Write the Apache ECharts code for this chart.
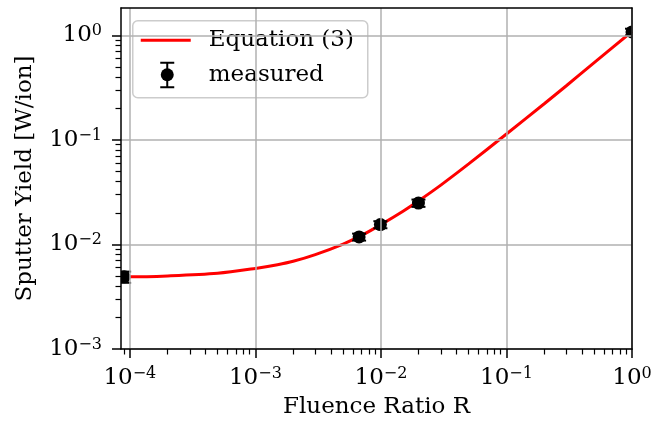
<!DOCTYPE html>
<html>
<head>
<meta charset="utf-8">
<script src="https://cdn.jsdelivr.net/npm/echarts@6/dist/echarts.min.js"></script>
<style>
html, body { margin: 0; padding: 0; background: #fff; }
#chart { width: 668px; height: 424px; }
</style>
</head>
<body>
<div id="chart"></div>
<script>
// fitted curve
var curveR = [8.5e-5, 1e-4, 2e-4, 5e-4, 1e-3, 1.5e-3, 2e-3, 3e-3, 5e-3, 7e-3, 1e-2, 1.5e-2, 2e-2, 3e-2, 5e-2, 1e-1, 2e-1, 3e-1, 5e-1, 1];
var curveY = [0.0049, 0.0049, 0.0050, 0.0053, 0.0059, 0.0064, 0.0069, 0.0080, 0.0101, 0.0122, 0.0155, 0.0208, 0.0262, 0.037, 0.059, 0.114, 0.222, 0.33, 0.55, 1.09];

// measured points with error bars
var measR = [9e-5, 0.0067, 0.0099, 0.0199, 1.0];
var measY = [0.0049, 0.0118, 0.0155, 0.0249, 1.08];
var measErr = [0.0006, 0.0009, 0.0012, 0.002, 0.08];

var xMajor = [-4, -3, -2, -1, 0];
var yMajor = [-3, -2, -1, 0];

var xMin = Math.log10(8.5e-5), xMax = 0;
var yMin = -3, yMax = Math.log10(1.83);

function minorTicks(lo, hi) {
	var out = [];
	for (var d = Math.floor(lo); d < Math.ceil(hi); d++) {
		for (var k = 2; k <= 9; k++) {
			var v = d + Math.log10(k);
			if (v >= lo && v <= hi) out.push(v);
		}
	}
	return out;
}

var font = 'DejaVu Serif';
var axisColor = '#000';

function powLabel(v) {
	var e = Math.round(v);
	return '{b|10}{s|' + (e < 0 ? '\u2212' + (-e) : e) + '}';
}
var labelRich = {
	b: { fontFamily: font, fontSize: 23, color: '#000' },
	s: { fontFamily: font, fontSize: 16, color: '#000', verticalAlign: 'bottom', padding: [0, 0, 9, 0] }
};

var curveData = curveR.map(function (r, i) { return [Math.log10(r), Math.log10(curveY[i])]; });
var measData = measR.map(function (r, i) {
	return [Math.log10(r), Math.log10(measY[i]), Math.log10(measY[i] - measErr[i]), Math.log10(measY[i] + measErr[i])];
});

var chart = echarts.init(document.getElementById('chart'));

chart.setOption({
	animation: false,
	backgroundColor: '#fff',
	grid: { left: 121, right: 36, top: 8, bottom: 72, containLabel: false },
	xAxis: [{
		type: 'value', min: xMin, max: xMax, position: 'bottom', z: 5,
		axisLine: { onZero: false, lineStyle: { color: axisColor, width: 1.5 } },
		axisTick: { customValues: xMajor, length: 9, lineStyle: { color: axisColor, width: 1.5 } },
		axisLabel: { customValues: xMajor, margin: 17, formatter: powLabel, rich: labelRich },
		splitLine: { show: true, lineStyle: { color: '#b0b0b0', width: 1.5 } },
		name: 'Fluence Ratio R', nameLocation: 'middle', nameGap: 47,
		nameTextStyle: { fontFamily: font, fontSize: 23, color: '#000' }
	}, {
		type: 'value', min: xMin, max: xMax, position: 'bottom', z: 5,
		axisLine: { show: false, onZero: false },
		axisTick: { customValues: minorTicks(xMin, xMax), length: 5.5, lineStyle: { color: axisColor, width: 1.2 } },
		axisLabel: { show: false },
		splitLine: { show: false }
	}, {
		type: 'value', min: xMin, max: xMax, position: 'top', z: 6,
		axisLine: { onZero: false, lineStyle: { color: axisColor, width: 1.5 } },
		axisTick: { show: false }, axisLabel: { show: false }, splitLine: { show: false }
	}],
	yAxis: [{
		type: 'value', min: yMin, max: yMax, position: 'left', z: 5,
		axisLine: { onZero: false, lineStyle: { color: axisColor, width: 1.5 } },
		axisTick: { customValues: yMajor, length: 9, lineStyle: { color: axisColor, width: 1.5 } },
		axisLabel: { customValues: yMajor, margin: 19, formatter: powLabel, rich: labelRich },
		splitLine: { show: true, lineStyle: { color: '#b0b0b0', width: 1.5 } },
		name: 'Sputter Yield [W/ion]', nameLocation: 'middle', nameGap: 84,
		nameTextStyle: { fontFamily: font, fontSize: 23, color: '#000' }
	}, {
		type: 'value', min: yMin, max: yMax, position: 'left', z: 5,
		axisLine: { show: false, onZero: false },
		axisTick: { customValues: minorTicks(yMin, yMax), length: 5.5, lineStyle: { color: axisColor, width: 1.2 } },
		axisLabel: { show: false },
		splitLine: { show: false }
	}, {
		type: 'value', min: yMin, max: yMax, position: 'right', z: 6,
		axisLine: { onZero: false, lineStyle: { color: axisColor, width: 1.5 } },
		axisTick: { show: false }, axisLabel: { show: false }, splitLine: { show: false }
	}],
	series: [{
		name: 'Equation (3)',
		type: 'line',
		data: curveData,
		smooth: 0.3,
		showSymbol: false,
		clip: true,
		lineStyle: { color: '#ff0000', width: 3 },
		z: 3
	}, {
		name: 'measured',
		type: 'custom',
		clip: true,
		z: 4,
		data: measData,
		renderItem: function (params, api) {
			var c = api.coord([api.value(0), api.value(1)]);
			var lo = api.coord([api.value(0), api.value(2)]);
			var hi = api.coord([api.value(0), api.value(3)]);
			var st = { stroke: '#000', lineWidth: 2 };
			return {
				type: 'group',
				children: [
					{ type: 'line', shape: { x1: c[0], y1: lo[1], x2: c[0], y2: hi[1] }, style: st },
					{ type: 'line', shape: { x1: c[0] - 7, y1: lo[1], x2: c[0] + 7, y2: lo[1] }, style: st },
					{ type: 'line', shape: { x1: c[0] - 7, y1: hi[1], x2: c[0] + 7, y2: hi[1] }, style: st },
					{ type: 'circle', shape: { cx: c[0], cy: c[1], r: 6.5 }, style: { fill: '#000' } }
				]
			};
		}
	}],
	graphic: [{
		type: 'group', left: 132, top: 20, z: 100,
		children: [
			{ type: 'rect', shape: { x: 0, y: 0, width: 235, height: 77, r: 5 },
				style: { fill: 'rgba(255,255,255,0.8)', stroke: '#cccccc', lineWidth: 1.5 } },
			{ type: 'line', shape: { x1: 8, y1: 19.5, x2: 58, y2: 19.5 }, style: { stroke: '#ff0000', lineWidth: 3 } },
			{ type: 'line', shape: { x1: 34.5, y1: 42, x2: 34.5, y2: 66.5 }, style: { stroke: '#000', lineWidth: 2 } },
			{ type: 'line', shape: { x1: 27.5, y1: 42, x2: 41.5, y2: 42 }, style: { stroke: '#000', lineWidth: 2 } },
			{ type: 'line', shape: { x1: 27.5, y1: 66.5, x2: 41.5, y2: 66.5 }, style: { stroke: '#000', lineWidth: 2 } },
			{ type: 'circle', shape: { cx: 34.5, cy: 54, r: 6.5 }, style: { fill: '#000' } },
			{ type: 'text', x: 76, y: 19.5, style: { text: 'Equation (3)', font: '23px "DejaVu Serif"', fill: '#000', verticalAlign: 'middle' } },
			{ type: 'text', x: 76, y: 54, style: { text: 'measured', font: '23px "DejaVu Serif"', fill: '#000', verticalAlign: 'middle' } }
		]
	}]
});
</script>
</body>
</html>
